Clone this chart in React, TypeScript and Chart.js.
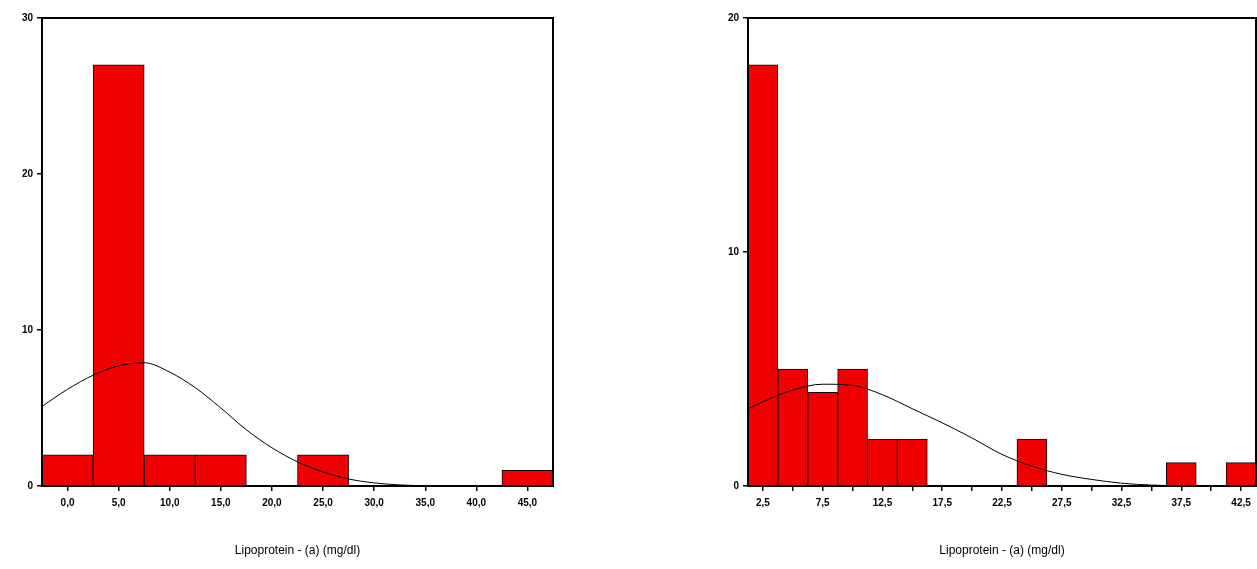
import React, { useEffect, useRef } from 'react';
import { Chart, registerables } from 'chart.js';

Chart.register(...registerables);

// ---- Left histogram ----
const leftBinCenters = [0, 5, 10, 15, 20, 25, 30, 35, 40, 45];
const leftCounts = [2, 27, 2, 2, 0, 2, 0, 0, 0, 1];
const leftTickLabels = ['0,0', '5,0', '10,0', '15,0', '20,0', '25,0', '30,0', '35,0', '40,0', '45,0'];
const leftYTicks = [0, 10, 20, 30];
const leftCurveX = [-2.5, 0, 2.5, 5, 7.5, 10, 12.5, 15, 17.5, 20, 22.5, 25, 27.5, 30, 32.5, 35, 37.5, 40, 42.5, 45, 47.5];
const leftCurveY = [5.1, 6.2, 7.1, 7.7, 7.9, 7.3, 6.3, 5.0, 3.6, 2.45, 1.55, 0.9, 0.45, 0.2, 0.07, 0.02, 0, 0, 0, 0, 0];

// ---- Right histogram ----
const rightBinCenters = [2.5, 5, 7.5, 10, 12.5, 15, 17.5, 20, 22.5, 25, 27.5, 30, 32.5, 35, 37.5, 40, 42.5];
const rightCounts = [18, 5, 4, 5, 2, 2, 0, 0, 0, 2, 0, 0, 0, 0, 1, 0, 1];
const rightTickLabels = ['2,5', '', '7,5', '', '12,5', '', '17,5', '', '22,5', '', '27,5', '', '32,5', '', '37,5', '', '42,5'];
const rightYTicks = [0, 10, 20];
const rightCurveX = [1.25, 2.5, 5, 7.5, 10, 12.5, 15, 17.5, 20, 22.5, 25, 27.5, 30, 32.5, 35, 37.5, 40, 42.5, 43.75];
const rightCurveY = [3.3, 3.6, 4.1, 4.35, 4.3, 3.9, 3.3, 2.7, 2.05, 1.35, 0.85, 0.5, 0.28, 0.12, 0.04, 0.01, 0, 0, 0];

const axisTitle = 'Lipoprotein - (a) (mg/dl)';

const framePlugin = {
  id: 'frame',
  afterDatasetsDraw(chart: any) {
    const { ctx, chartArea: a } = chart;
    ctx.save();
    ctx.strokeStyle = '#000';
    ctx.lineWidth = 2;
    ctx.strokeRect(a.left, a.top, a.right - a.left, a.bottom - a.top);
    ctx.restore();
  },
};

type HistProps = {
  left: number;
  width: number;
  axisWidth: number;
  padRight: number;
  centers: number[];
  counts: number[];
  tickLabels: string[];
  yTicks: number[];
  xMin: number;
  xMax: number;
  curveX: number[];
  curveY: number[];
};

function Histogram(p: HistProps) {
  const ref = useRef<HTMLCanvasElement>(null);
  useEffect(() => {
    if (!ref.current) return;
    const tickFont = { family: "'Liberation Sans', Arial, sans-serif", size: 10, weight: 'bold' as const };
    const chart = new Chart(ref.current, {
      type: 'bar',
      data: {
        datasets: [
          {
            type: 'line' as const,
            data: p.curveX.map((x, i) => ({ x, y: p.curveY[i] })),
            borderColor: '#000',
            borderWidth: 1,
            pointRadius: 0,
            fill: false,
            cubicInterpolationMode: 'monotone' as const,
            order: 0,
          },
          {
            type: 'bar' as const,
            data: p.centers.map((x, i) => ({ x, y: p.counts[i] })),
            backgroundColor: '#f00000',
            borderColor: '#1a0000',
            borderWidth: 1,
            borderSkipped: 'bottom' as const,
            barPercentage: 1,
            categoryPercentage: 1,
            order: 1,
          } as any,
        ],
      },
      options: {
        responsive: false,
        animation: false,
        events: [],
        layout: { padding: { top: 18, right: p.padRight, left: 0, bottom: 0 } },
        plugins: { legend: { display: false }, tooltip: { enabled: false }, title: { display: false } },
        scales: {
          x: {
            type: 'linear',
            offset: false,
            min: p.xMin,
            max: p.xMax,
            border: { display: false },
            grid: { display: true, offset: false, drawOnChartArea: false, drawTicks: true, tickLength: 5, color: '#000', lineWidth: 1.5 },
            afterBuildTicks: (s: any) => {
              s.ticks = p.centers.map((v) => ({ value: v }));
            },
            afterFit: (s: any) => {
              s.height = 83;
            },
            ticks: {
              autoSkip: false,
              maxRotation: 0,
              color: '#000',
              font: tickFont,
              padding: 6,
              callback: (_v: any, i: number) => p.tickLabels[i],
            },
            title: {
              display: true,
              text: axisTitle,
              color: '#000',
              font: { family: "'Liberation Sans', Arial, sans-serif", size: 12 },
              padding: { top: 0, bottom: 11 },
            },
          },
          y: {
            type: 'linear',
            min: p.yTicks[0],
            max: p.yTicks[p.yTicks.length - 1],
            border: { display: false },
            grid: { display: true, drawOnChartArea: false, drawTicks: true, tickLength: 5, color: '#000', lineWidth: 1.5 },
            afterBuildTicks: (s: any) => {
              s.ticks = p.yTicks.map((v) => ({ value: v }));
            },
            afterFit: (s: any) => {
              s.width = p.axisWidth;
            },
            ticks: {
              color: '#000',
              font: tickFont,
              padding: 4,
              callback: (v: any) => String(v),
            },
          },
        },
      },
      plugins: [framePlugin],
    } as any);
    return () => chart.destroy();
  }, []);
  return (
    <div style={{ position: 'absolute', left: p.left, top: 0, width: p.width, height: 569 }}>
      <canvas ref={ref} width={p.width} height={569} style={{ display: 'block' }} />
    </div>
  );
}

export default function App() {
  return (
    <div style={{ position: 'fixed', left: 0, top: 0, width: 1257, height: 569, background: '#fff', overflow: 'hidden' }}>
      <Histogram
        left={0}
        width={620}
        axisWidth={42}
        padRight={67}
        centers={leftBinCenters}
        counts={leftCounts}
        tickLabels={leftTickLabels}
        yTicks={leftYTicks}
        xMin={-2.5}
        xMax={47.5}
        curveX={leftCurveX}
        curveY={leftCurveY}
      />
      <Histogram
        left={690}
        width={567}
        axisWidth={58}
        padRight={1}
        centers={rightBinCenters}
        counts={rightCounts}
        tickLabels={rightTickLabels}
        yTicks={rightYTicks}
        xMin={1.25}
        xMax={43.75}
        curveX={rightCurveX}
        curveY={rightCurveY}
      />
    </div>
  );
}
